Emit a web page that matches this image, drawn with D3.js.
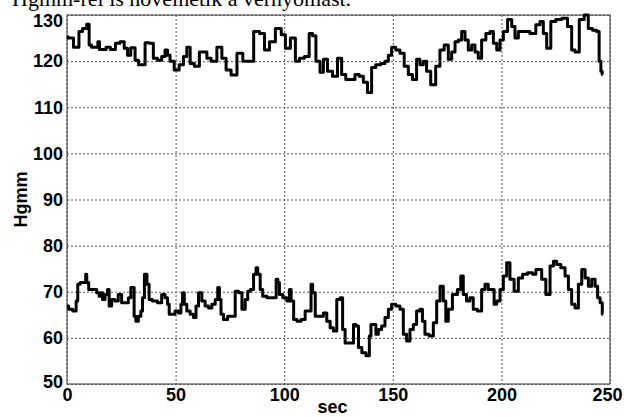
<!DOCTYPE html>
<html>
<head>
<meta charset="utf-8">
<script src="https://cdn.jsdelivr.net/npm/d3@7"></script>
<style>
  body { margin: 0; background: #fff; }
  svg { display: block; }
</style>
</head>
<body>
<div id="bp_chart"><div class="plot"></div></div>
<script>

// Systolic pressure (upper trace).
const sys_time = [ 0, 1, 5, 6, 8.3, 9.8, 10.6, 12, 14, 14.4, 15.5, 17, 19, 21, 23.6, 25.2, 27.5, 28.2, 30.5, 32.2, 33.6, 35.2, 36.7, 39, 40.5, 42.8, 44.4, 45.9, 46.7, 48.2, 50.5, 52.8, 54.4, 55.9, 57.5, 59.8, 62.1, 63.6, 65.2, 67.5, 70.5, 72.1, 74.4, 76.7, 79.8, 82.1, 84.4, 87.5, 89.8, 92.1, 94.4, 97.5, 99.8, 101.3, 104.4, 105.9, 108.2, 110.4, 112.6, 113.5, 115.7, 117.3, 118.8, 121.1, 123.4, 125.7, 127.2, 129.5, 131.8, 133.4, 135.7, 137.2, 139.5, 141, 143.3, 145.6, 147.2, 148.7, 150.2, 152.5, 154.1, 156.4, 157.9, 160.2, 161.7, 163.3, 164.8, 166.3, 168.6, 170.9, 172.5, 174.8, 176.3, 177.9, 179.4, 180.9, 182.5, 184, 185.5, 187.1, 188.6, 190.1, 191.7, 194, 195.5, 197.1, 198.6, 200.1, 201.7, 204, 205.5, 207, 208.6, 211.6, 214.7, 217, 218.5, 220.1, 221.6, 223.9, 226.2, 229.3, 231.6, 233.1, 234.7, 237, 239.2, 240.8, 243.1, 244.6, 245.4, 246.2, 246.6 ];
const sys_value = [ 125.3, 125, 123, 126.4, 127.1, 128, 123.5, 123, 123, 124.2, 122.5, 122.5, 123, 122.5, 123.9, 124.2, 122.8, 121.3, 122.9, 120.2, 119.2, 119.2, 124, 123.9, 120.6, 120.2, 121, 122.4, 121.3, 120, 118.1, 119.2, 121, 123, 119.5, 118.9, 122, 122, 120.6, 120, 123, 120.6, 118.1, 117, 121.7, 120, 120, 126.4, 126, 122.4, 124.2, 127.1, 125.7, 122.8, 125, 120, 120.6, 121, 126, 125.5, 120, 117.6, 120.4, 117.8, 116.7, 120.6, 117.1, 116, 116, 117.1, 116.7, 115.4, 113.2, 118.6, 119.2, 119.5, 120, 121.3, 123, 122.4, 121.7, 118.9, 117.1, 116, 120.4, 119.2, 120, 117.8, 114.9, 118.9, 122.4, 123.5, 120.4, 122, 124.2, 124.6, 126.4, 124.6, 122.4, 123.5, 122, 120.6, 124.6, 126, 126.4, 123.9, 122.4, 124.6, 126.4, 129, 127.5, 125, 126.4, 126.4, 126, 127.9, 128.6, 126, 122.8, 128.6, 129, 129.3, 127.5, 122.4, 122, 129, 130, 127.1, 126.7, 126.4, 120, 117.8, 117.1 ];

// Diastolic pressure (lower trace).
const dia_time = [ 0, 1.5, 3.8, 4.6, 5.3, 6.8, 8.4, 8.8, 9.4, 10.6, 12.9, 14.4, 15.2, 16, 16.7, 18.3, 19, 19.8, 21.3, 22.8, 24.4, 25.9, 27.5, 29, 29.8, 30.5, 31.3, 32.1, 33.6, 34.4, 35.1, 36.2, 37.4, 38.2, 40.5, 42.8, 44.4, 45.9, 46.7, 47.4, 49, 50.5, 52.1, 52.8, 53.6, 54.4, 55.9, 57.5, 59, 59.8, 61.3, 62.8, 64.4, 65.9, 67.5, 69, 69.8, 70.5, 71.3, 72.8, 75.1, 76.7, 78.2, 79.8, 81.3, 82.8, 83.6, 85.1, 86.7, 87.4, 88.2, 89.7, 90.5, 93.6, 95.9, 96.7, 97.4, 98.2, 100.5, 102, 102.8, 103.6, 105.1, 106.6, 108.9, 110.4, 112, 112.7, 113.5, 115.1, 117.3, 118.8, 120.4, 121.9, 123.4, 125, 126.5, 127.3, 128.8, 131.1, 132.7, 133.4, 135, 136.5, 138.8, 139.6, 140.3, 141.8, 142.6, 144.1, 145.6, 147.2, 148.7, 150.2, 152.5, 154.1, 155.6, 157.1, 158.7, 160.2, 161.7, 163.3, 164, 165.6, 167.9, 169.4, 171, 172.5, 174, 174.8, 176.3, 178.6, 180.9, 181.7, 183.2, 184.7, 186.3, 187.8, 190.1, 191.7, 193.2, 194.7, 196.3, 197, 198.6, 200.1, 201.7, 203.2, 204.7, 207, 208.6, 210.9, 213.2, 215.5, 216.3, 217.8, 219.3, 221.6, 223.2, 224.7, 226.2, 228.5, 230.1, 231.6, 233.1, 234.7, 236.2, 237.8, 239.3, 240.8, 242.4, 243.9, 244.7, 246.2, 246.7 ];
const dia_value = [ 66.9, 66.2, 65.8, 68, 71.6, 72, 72, 73.8, 72, 70.5, 70.5, 69.8, 69, 69.8, 68.3, 69.4, 70.5, 66.9, 68.3, 68, 69.4, 67.6, 67.6, 68.7, 70.9, 70.9, 64.7, 63.6, 64.7, 65.8, 68.7, 73.8, 71.6, 68.3, 68, 67.6, 69.4, 68.7, 67.3, 65.1, 65.1, 65.8, 65.4, 67.3, 69.8, 67.3, 65.8, 65.1, 64.4, 66.9, 69.8, 68, 66.9, 66.5, 67.3, 68.3, 70.9, 68.3, 65.1, 64, 64.7, 64.7, 70.1, 69.8, 66.2, 68.3, 70.1, 70.5, 73.8, 75.2, 73.8, 70.5, 69, 68.7, 68.7, 72.7, 72, 69.4, 68.7, 68, 70.5, 68, 64, 63.6, 64, 65.8, 65.8, 71.6, 69.8, 64.7, 64.7, 65.4, 63.6, 62.2, 61.5, 68.3, 68.7, 61.8, 58.9, 58.9, 62.9, 62.6, 57.9, 56.8, 56.1, 60.4, 62.9, 62.9, 60.8, 61.8, 62.6, 64.4, 66.2, 67.3, 66.9, 66.2, 60.8, 59.3, 61.8, 62.9, 65.8, 66.2, 63.6, 60.8, 60.4, 63.3, 68, 71.2, 68, 63.6, 66.2, 69.4, 70.5, 73.4, 69.4, 68, 68.7, 66.2, 65.8, 70.5, 71.6, 70.5, 70.5, 67.3, 68, 70.5, 73.4, 76.3, 72.7, 70.1, 73, 73.8, 74.1, 73.8, 74.8, 74.8, 72.7, 69.4, 75.6, 76.6, 75.9, 75.2, 73.4, 70.5, 67.3, 66.5, 71.6, 74.8, 73, 71.2, 72.7, 71.2, 68.7, 67.6, 65.1 ];

const x_ticks = [ 0, 50, 100, 150, 200, 250 ];
const y_ticks = [ 50, 60, 70, 80, 90, 100, 110, 120, 130 ];

const x_axis_title = 'sec';
const y_axis_title = 'Hgmm';
// Bottom of the caption line that is cut off above the figure.
const caption = 'Hgmm-rel is növelhetik a vérnyomást.';

const DEFAULTS = {
  figure_width: 624,
  figure_height: 417,
  plot_margin: { top: 15, right: 14, bottom: 33, left: 67 },
  tick_style: 'font-family: Arial, "Liberation Sans", sans-serif; font-size: 18px; font-weight: bold;',
  axis_style: 'font-family: Arial, "Liberation Sans", sans-serif; font-size: 18px; font-weight: bold;'
};


class TraceChart{

  constructor( elem_id, options ){
    this.elem_id = elem_id;
    this.settings = Object.assign( {}, DEFAULTS, options );
    this.settings.plot_width = this.settings.figure_width - this.settings.plot_margin.left - this.settings.plot_margin.right;
    this.settings.plot_height = this.settings.figure_height - this.settings.plot_margin.top - this.settings.plot_margin.bottom;

    this.series = [
      d3.zip( sys_time, sys_value ),
      d3.zip( dia_time, dia_value )
    ];

    this.render_chart();
  }

  render_chart(){
    const s = this.settings;

    this.root = d3.select( 'div#' + this.elem_id + ' .plot' )
      .append( 'svg' )
        .attr( 'width', s.figure_width )
        .attr( 'height', s.figure_height );

    // Caption text cut off at the top edge.
    this.root.append( 'text' )
      .attr( 'x', 12 )
      .attr( 'y', 6 )
      .attr( 'style', 'font-family: "Times New Roman", "Liberation Serif", serif; font-size: 22px;' )
      .text( caption );

    this.svg = this.root.append( 'g' )
      .attr( 'transform', 'translate(' + s.plot_margin.left + ',' + s.plot_margin.top + ')' );

    this.x_scale = d3.scaleLinear()
      .domain( [0, 250] )
      .range( [0, s.plot_width] );
    this.y_scale = d3.scaleLinear()
      .domain( [50, 130] )
      .range( [s.plot_height, 0] );

    // Dotted grid.
    this.svg.append( 'g' )
      .attr( 'class', 'grid' )
      .call( d3.axisBottom( this.x_scale ).tickValues( x_ticks ).tickSize( s.plot_height ).tickFormat( '' ) )
      .call( g => g.select( '.domain' ).remove() )
      .selectAll( 'line' )
        .attr( 'stroke', '#555' )
        .attr( 'stroke-dasharray', '2,2' );
    this.svg.append( 'g' )
      .attr( 'class', 'grid' )
      .call( d3.axisLeft( this.y_scale ).tickValues( y_ticks ).tickSize( -s.plot_width ).tickFormat( '' ) )
      .call( g => g.select( '.domain' ).remove() )
      .selectAll( 'line' )
        .attr( 'stroke', '#555' )
        .attr( 'stroke-dasharray', '2,2' );

    // Box round the plot.
    this.svg.append( 'rect' )
      .attr( 'width', s.plot_width )
      .attr( 'height', s.plot_height )
      .attr( 'fill', 'none' )
      .attr( 'stroke', '#555' )
      .attr( 'stroke-width', 1.2 );

    // Tick labels. The end labels sit a little inside, as in the original.
    this.svg.append( 'g' )
      .attr( 'transform', 'translate(0,' + s.plot_height + ')' )
      .call( d3.axisBottom( this.x_scale ).tickValues( x_ticks ).tickSize( 0 ).tickPadding( 4 ) )
      .call( g => g.select( '.domain' ).remove() )
      .selectAll( 'text' )
        .attr( 'fill', '#000' )
        .attr( 'dx', d => d === 250 ? -3 : 0 )
        .attr( 'style', s.tick_style );
    this.svg.append( 'g' )
      .call( d3.axisLeft( this.y_scale ).tickValues( y_ticks ).tickSize( 0 ).tickPadding( 4 ) )
      .call( g => g.select( '.domain' ).remove() )
      .selectAll( 'text' )
        .attr( 'fill', '#000' )
        .attr( 'dy', d => d === 130 ? '0.65em' : ( d === 50 ? '0.2em' : '0.32em' ) )
        .attr( 'style', s.tick_style );

    // The two pressure traces.
    const line = d3.line()
      .x( d => this.x_scale( d[0] ) )
      .y( d => this.y_scale( d[1] ) )
      .curve( d3.curveStep );
    this.svg.append( 'g' )
      .selectAll( 'path' )
      .data( this.series )
      .join( 'path' )
        .attr( 'd', line )
        .attr( 'fill', 'none' )
        .attr( 'stroke', '#000' )
        .attr( 'stroke-width', 3 )
        .attr( 'stroke-linejoin', 'round' );

    // Axis titles.
    this.svg.append( 'text' )
      .attr( 'x', s.plot_width / 2 - 6 )
      .attr( 'y', s.plot_height + 29 )
      .attr( 'text-anchor', 'middle' )
      .attr( 'style', s.axis_style )
      .text( x_axis_title );
    this.svg.append( 'g' )
      .attr( 'transform', 'translate(' + ( -s.plot_margin.left + 27 ) + ',' + ( s.plot_height / 2 ) + ')' )
      .append( 'text' )
        .attr( 'text-anchor', 'middle' )
        .attr( 'transform', 'rotate(-90)' )
        .attr( 'style', s.axis_style )
        .text( y_axis_title );
  }

}

new TraceChart( 'bp_chart', {} );
</script>
</body>
</html>
